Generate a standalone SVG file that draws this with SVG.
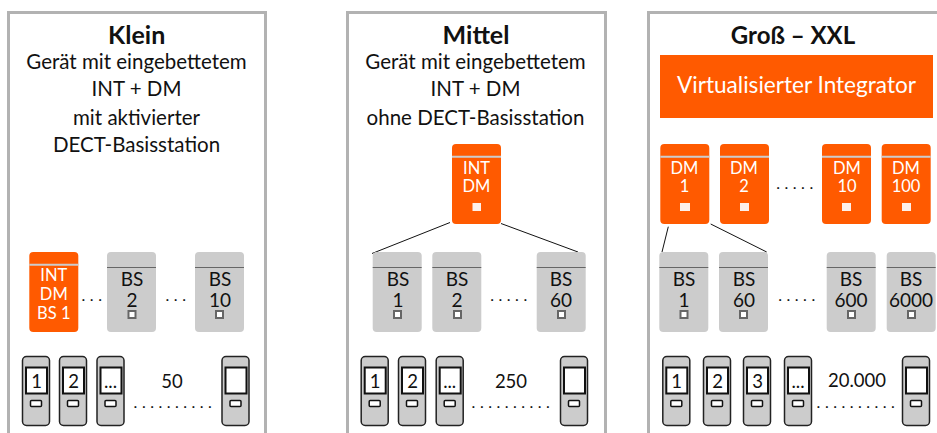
<svg xmlns="http://www.w3.org/2000/svg" width="937" height="433" viewBox="0 0 937 433">
<style>
text{font-family:"Lato","Open Sans","Liberation Sans",sans-serif;text-anchor:middle;fill:#111}
.panel{fill:none;stroke:#b2b2b2;stroke-width:3}
.title{font-size:25px;font-weight:700}
.body{font-size:20.500px}
.o{fill:#ff5a00}
.g{fill:#ccc}
.ol{stroke:#ccc;stroke-width:2}
.gl{stroke:#666;stroke-width:1}
.wt{fill:#fff;font-size:16.500px}
.bt{font-size:19px}
.os{fill:#fdf0ea}
.gs{fill:#fff;stroke:#666;stroke-width:2}
.ph{fill:#ccc;stroke:#222;stroke-width:1.500}
.sc{fill:#fff;stroke:#111;stroke-width:2}
.btn{fill:#fff;stroke:#111;stroke-width:1.500}
.pt{font-size:18.500px}
.dots{font-size:16px;letter-spacing:4.500px}
.c{stroke:#111;stroke-width:1;fill:none}
</style>
<defs>
<rect id="boxO" width="49" height="80" rx="4" class="o"/>
<rect id="boxG" width="49" height="80" rx="4" class="g"/>
<g id="phone">
<rect x="0.500" y="0.500" width="27" height="69" rx="4" class="ph"/>
<rect x="4" y="11.500" width="21" height="26" class="sc"/>
<rect x="8.500" y="44.500" width="11" height="6" rx="1" class="btn"/>
</g>
</defs>

<g id="panels">
<path class="panel" d="M8.500 433V12.500H265.500V433"/>
<path class="panel" d="M347.500 433V12.500H605.500V433"/>
<path class="panel" d="M648.500 433V12.500H937"/>
</g>

<g id="connectors">
<path class="c" d="M450 222.500L372 253.500"/>
<path class="c" d="M501 223.500L578 252"/>
<path class="c" d="M668.300 226.700L662 252"/>
<path class="c" d="M710.700 224L766.700 252"/>
</g>

<g id="klein-text">
<text class="title" x="136.700" y="44">Klein</text>
<text class="body" x="136.500" y="69">Gerät mit eingebettetem</text>
<text class="body" x="136.500" y="96">INT + DM</text>
<text class="body" x="136.500" y="125">mit aktivierter</text>
<text class="body" x="136.500" y="151.700">DECT-Basisstation</text>
</g>
<g id="k-int"><use href="#boxO" x="29.300" y="252"/><line class="ol" x1="29.300" x2="78.300" y1="264.700" y2="264.700"/>
<text class="wt" x="53.800" y="281">INT</text><text class="wt" x="53.800" y="300">DM</text><text class="wt" x="53.800" y="319">BS 1</text></g>
<g id="k-bs2"><use href="#boxG" x="107" y="252"/><line class="gl" x1="107" x2="156" y1="267.500" y2="267.500"/>
<text class="bt" x="132" y="286">BS</text><text class="bt" x="132" y="307">2</text><rect class="gs" x="128.500" y="311" width="7" height="7"/></g>
<g id="k-bs10"><use href="#boxG" x="195" y="252"/><line class="gl" x1="195" x2="244" y1="267.500" y2="267.500"/>
<text class="bt" x="220" y="286">BS</text><text class="bt" x="220" y="307">10</text><rect class="gs" x="216" y="311" width="7" height="7"/></g>
<g id="k-dots"><text class="dots" x="94" y="301">...</text><text class="dots" x="178" y="301">...</text><text class="dots" x="175" y="408">..........</text></g>
<g id="k-p1"><use href="#phone" x="22" y="356"/><text class="pt" x="36.500" y="388">1</text></g>
<g id="k-p2"><use href="#phone" x="59" y="356"/><text class="pt" x="73.500" y="388">2</text></g>
<g id="k-p3"><use href="#phone" x="96.500" y="356"/><text class="pt" x="110.500" y="388">...</text></g>
<g id="k-p4"><use href="#phone" x="221.500" y="356"/></g>
<text class="pt" x="172" y="388">50</text>

<g id="mittel-text">
<text class="title" x="476" y="44">Mittel</text>
<text class="body" x="475.500" y="69">Gerät mit eingebettetem</text>
<text class="body" x="475.500" y="96">INT + DM</text>
<text class="body" x="475.500" y="125">ohne DECT-Basisstation</text>
</g>
<g id="m-int"><use href="#boxO" x="452" y="144"/><line class="ol" x1="452" x2="501" y1="156.700" y2="156.700"/>
<text class="wt" x="476.500" y="174">INT</text><text class="wt" x="476.500" y="192.300">DM</text><rect class="os" x="472.500" y="203" width="8.500" height="8"/></g>
<g id="m-bs1"><use href="#boxG" x="372.700" y="252"/><line class="gl" x1="372.700" x2="421.700" y1="267.500" y2="267.500"/>
<text class="bt" x="398" y="286">BS</text><text class="bt" x="398" y="307">1</text><rect class="gs" x="394" y="311" width="7" height="7"/></g>
<g id="m-bs2"><use href="#boxG" x="432.300" y="252"/><line class="gl" x1="432.300" x2="481.300" y1="267.500" y2="267.500"/>
<text class="bt" x="457" y="286">BS</text><text class="bt" x="457" y="307">2</text><rect class="gs" x="454" y="311" width="7" height="7"/></g>
<g id="m-bs60"><use href="#boxG" x="536.700" y="252"/><line class="gl" x1="536.700" x2="585.700" y1="267.500" y2="267.500"/>
<text class="bt" x="561" y="286">BS</text><text class="bt" x="561" y="307">60</text><rect class="gs" x="558" y="311" width="7" height="7"/></g>
<g id="m-dots"><text class="dots" x="511" y="301">.....</text><text class="dots" x="513" y="408">..........</text></g>
<g id="m-p1"><use href="#phone" x="360.700" y="356"/><text class="pt" x="375" y="388">1</text></g>
<g id="m-p2"><use href="#phone" x="398" y="356"/><text class="pt" x="412.500" y="388">2</text></g>
<g id="m-p3"><use href="#phone" x="435.700" y="356"/><text class="pt" x="449.700" y="388">...</text></g>
<g id="m-p4"><use href="#phone" x="560" y="356"/></g>
<text class="pt" x="511" y="388">250</text>

<g id="gross-text"><text class="title" x="793" y="44" style="font-size:24px">Groß – XXL</text></g>
<g id="g-vi"><rect class="o" x="660" y="55" width="273" height="63"/><text x="796.500" y="93" style="fill:#fff;font-size:22.600px">Virtualisierter Integrator</text></g>
<g id="g-dm1"><use href="#boxO" x="660.300" y="144"/><line class="ol" x1="660.300" x2="709.300" y1="156.700" y2="156.700"/>
<text class="wt" x="684.500" y="174">DM</text><text class="wt" x="684.500" y="192.300">1</text><rect class="os" x="680" y="203" width="10" height="8"/></g>
<g id="g-dm2"><use href="#boxO" x="720" y="144"/><line class="ol" x1="720" x2="769" y1="156.700" y2="156.700"/>
<text class="wt" x="744" y="174">DM</text><text class="wt" x="744" y="192.300">2</text><rect class="os" x="740" y="203" width="9" height="8"/></g>
<g id="g-dm10"><use href="#boxO" x="822" y="144"/><line class="ol" x1="822" x2="871" y1="156.700" y2="156.700"/>
<text class="wt" x="847" y="174">DM</text><text class="wt" x="847" y="192.300">10</text><rect class="os" x="842" y="203" width="9" height="8"/></g>
<g id="g-dm100"><use href="#boxO" x="881.700" y="144"/><line class="ol" x1="881.700" x2="930.700" y1="156.700" y2="156.700"/>
<text class="wt" x="906" y="174">DM</text><text class="wt" x="906" y="192.300">100</text><rect class="os" x="902" y="203" width="9" height="8"/></g>
<g id="g-bs1"><use href="#boxG" x="659.300" y="252"/><line class="gl" x1="659.300" x2="708.300" y1="267.500" y2="267.500"/>
<text class="bt" x="684" y="286">BS</text><text class="bt" x="684" y="307">1</text><rect class="gs" x="680.500" y="311" width="7" height="7"/></g>
<g id="g-bs60"><use href="#boxG" x="719" y="252"/><line class="gl" x1="719" x2="768" y1="267.500" y2="267.500"/>
<text class="bt" x="744" y="286">BS</text><text class="bt" x="744" y="307">60</text><rect class="gs" x="740" y="311" width="7" height="7"/></g>
<g id="g-bs600"><use href="#boxG" x="826.700" y="252"/><line class="gl" x1="826.700" x2="875.700" y1="267.500" y2="267.500"/>
<text class="bt" x="851" y="286">BS</text><text class="bt" x="851" y="307">600</text><rect class="gs" x="848" y="311" width="7" height="7"/></g>
<g id="g-bs6000"><use href="#boxG" x="886.700" y="252"/><line class="gl" x1="886.700" x2="935.700" y1="267.500" y2="267.500"/>
<text class="bt" x="911" y="286">BS</text><text class="bt" x="911" y="307">6000</text><rect class="gs" x="908" y="311" width="7" height="7"/></g>
<g id="g-dots"><text class="dots" x="797" y="189">.....</text><text class="dots" x="799" y="301">.....</text><text class="dots" x="858" y="408">..........</text></g>
<g id="g-p1"><use href="#phone" x="662.300" y="356"/><text class="pt" x="676.500" y="388">1</text></g>
<g id="g-p2"><use href="#phone" x="703" y="356"/><text class="pt" x="717.500" y="388">2</text></g>
<g id="g-p3"><use href="#phone" x="743" y="356"/><text class="pt" x="757.500" y="388">3</text></g>
<g id="g-p4"><use href="#phone" x="784" y="356"/><text class="pt" x="798" y="388">...</text></g>
<g id="g-p5"><use href="#phone" x="902" y="356"/></g>
<text class="pt" x="857" y="387">20.000</text>
</svg>
